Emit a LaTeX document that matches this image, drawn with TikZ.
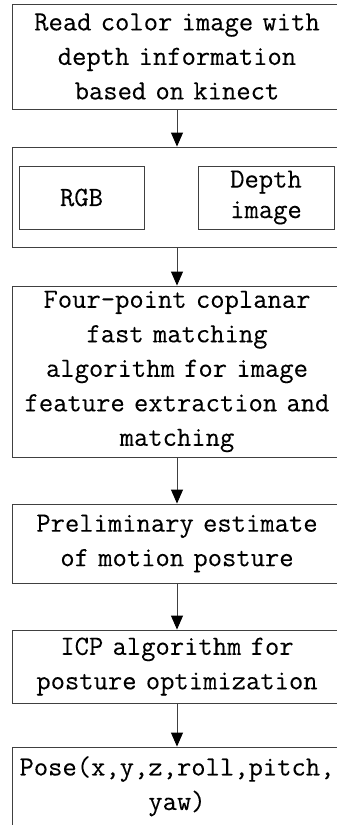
\documentclass[tikz,border=0pt]{standalone}
\usepackage{fontspec}
\setmonofont{Latin Modern Mono}[FakeBold=0.15]
\usepackage{tikz}
\usetikzlibrary{arrows.meta,positioning}
\definecolor{flowline}{HTML}{404040}

\begin{document}
\begin{tikzpicture}[x=1pt, y=-1pt,
    stage/.style={draw=flowline, line width=0.9pt, minimum width=330pt, inner sep=0pt, text width=326pt, align=center, font={\fontsize{27.8}{34.5}\selectfont\ttfamily}},
    part/.style={draw=flowline, line width=0.9pt, minimum height=63pt, inner sep=0pt, align=center, font={\fontsize{27.8}{30.5}\selectfont\ttfamily}},
    arrow/.style={-{Triangle[width=12pt,length=14pt,black]}, line width=0.9pt, flowline}
]
    \useasboundingbox (0,0) rectangle (337,825);

    % Step 1: input from kinect
    \node[stage, minimum height=105pt] (read) at (177,56.5) {Read color image with\\depth information\\based on kinect};

    % Step 2: split into colour and depth
    \node[stage, minimum height=100pt] (split) at (177,197) {};
    \node[part, minimum width=125pt] (rgb) at (81.5,197.5) {RGB};
    \node[part, minimum width=136pt] (depth) at (266,197.5) {Depth\\image};

    % Step 3: feature matching
    \node[stage, minimum height=171pt] (match) at (177,371.5) {Four-point coplanar\\fast matching\\algorithm for image\\feature extraction and\\matching};

    % Step 4: rough estimate
    \node[stage, minimum height=79pt] (prelim) at (177,543.5) {Preliminary estimate\\of motion posture};

    % Step 5: refinement
    \node[stage, minimum height=73pt] (icp) at (177,666.5) {ICP algorithm for\\posture optimization};

    % Step 6: output
    \node[stage, minimum height=78.5pt] (pose) at (177,786.25) {Pose(x,y,z,roll,pitch,\\yaw)};

    % Arrows
    \draw[arrow] (read) -- (split);
    \draw[arrow] (split) -- (match);
    \draw[arrow] (match) -- (prelim);
    \draw[arrow] (prelim) -- (icp);
    \draw[arrow] (icp) -- (pose);
\end{tikzpicture}
\end{document}
